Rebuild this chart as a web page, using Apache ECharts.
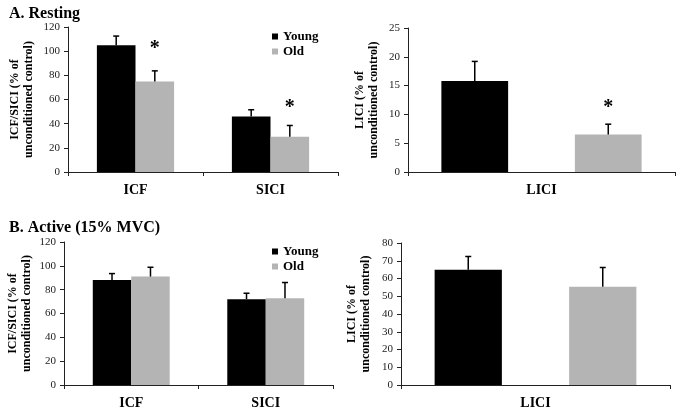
<!DOCTYPE html>
<html><head><meta charset="utf-8">
<script src="https://cdn.jsdelivr.net/npm/echarts@6/dist/echarts.min.js"></script>
<style>html,body{margin:0;padding:0;background:#fff}#c{width:679px;height:410px}</style>
</head><body><div id="c"></div>
<script>
// ---- data ----
const groupCats = ['ICF', 'SICI'];
const liciCats = ['LICI'];
const seriesNames = ['Young', 'Old'];
const restYoung = [105, 46];
const restYoungErr = [7.5, 5.5];
const restOld = [75, 29.2];
const restOldErr = [8.7, 9.3];
const restStars = [102, 53.5];
const restLiciYoung = [15.8];
const restLiciYoungErr = [3.4];
const restLiciOld = [6.5];
const restLiciOldErr = [1.8];
const restLiciStars = [11.2];
const actYoung = [88.2, 72];
const actYoungErr = [5.3, 5];
const actOld = [91, 72.8];
const actOldErr = [7.8, 13.2];
const actLiciYoung = [65];
const actLiciYoungErr = [7.4];
const actLiciOld = [55.4];
const actLiciOldErr = [10.8];
const ticksGroup = [0, 120, 20];
const ticksRestLici = [0, 25, 5];
const ticksActLici = [0, 80, 10];

const YOUNG = '#000000', OLD = '#b4b4b4';
const FONT = 'Liberation Serif';

const grids = [
  {left: 68, top: 27, width: 270, height: 145},
  {left: 408, top: 28, width: 267, height: 144},
  {left: 64, top: 242, width: 269, height: 144},
  {left: 401, top: 243, width: 269, height: 143}
];

function xAx(i, cats) {
  return {type: 'category', gridIndex: i, data: cats,
    axisLine: {lineStyle: {color: '#222', width: 1}},
    axisTick: {show: true, length: 4, lineStyle: {color: '#222'}},
    axisLabel: {fontFamily: FONT, fontWeight: 'bold', fontSize: 14, color: '#000', margin: 11}};
}
function yAx(i, t, gap) {
  return {type: 'value', gridIndex: i, min: t[0], max: t[1], interval: t[2],
    name: (i % 2 === 0 ? 'ICF/SICI' : 'LICI') + ' (% of\nunconditioned control)',
    nameLocation: 'middle', nameRotate: 90, nameGap: gap,
    nameTextStyle: {fontFamily: FONT, fontWeight: 'bold', fontSize: 12, color: '#000', lineHeight: 14},
    splitLine: {show: false},
    axisLine: {show: true, lineStyle: {color: '#222', width: 1}},
    axisTick: {show: true, length: 4, lineStyle: {color: '#222'}},
    axisLabel: {fontFamily: FONT, fontSize: 11, color: '#222', margin: 8}};
}

function errSeries(gi, vals, errs, offFrac) {
  return {type: 'custom', xAxisIndex: gi, yAxisIndex: gi, silent: true, z: 5,
    data: vals.map((v, k) => [k, v, v + errs[k]]),
    renderItem: function (params, api) {
      const band = api.size([1, 0])[0];
      const p0 = api.coord([api.value(0), api.value(1)]);
      const p1 = api.coord([api.value(0), api.value(2)]);
      const x = p0[0] + offFrac * band;
      return {type: 'group', children: [
        {type: 'line', shape: {x1: x, y1: p0[1], x2: x, y2: p1[1]}, style: {stroke: '#000', lineWidth: 1.5}},
        {type: 'line', shape: {x1: x - 3, y1: p1[1], x2: x + 3, y2: p1[1]}, style: {stroke: '#000', lineWidth: 1.5}}
      ]};
    }};
}
function starSeries(gi, vals, offFrac) {
  return {type: 'custom', xAxisIndex: gi, yAxisIndex: gi, silent: true, z: 5,
    data: vals.map((v, k) => [k, v]),
    renderItem: function (params, api) {
      const band = api.size([1, 0])[0];
      const p = api.coord([api.value(0), api.value(1)]);
      return {type: 'text', style: {x: p[0] + offFrac * band, y: p[1], text: '*', fill: '#000',
        font: 'bold 20px "' + FONT + '"', align: 'center', verticalAlign: 'middle'}};
    }};
}
function bars(gi, young, old, wide) {
  const base = {type: 'bar', xAxisIndex: gi, yAxisIndex: gi, barWidth: wide ? '25%' : '28.6%', barGap: wide ? '100%' : '0%', silent: true};
  return [
    Object.assign({}, base, {name: 'Young', data: young, itemStyle: {color: YOUNG}}),
    Object.assign({}, base, {name: 'Old', data: old, itemStyle: {color: OLD}})
  ];
}

const N = 0.143, W = 0.25;
const option = {
  animation: false,
  title: [
    {text: 'A. Resting', left: 4, top: 1, textStyle: {fontFamily: FONT, fontWeight: 'bold', fontSize: 16, color: '#000'}},
    {text: 'B. Active (15% MVC)', left: 4, top: 215, textStyle: {fontFamily: FONT, fontWeight: 'bold', fontSize: 16, color: '#000'}}
  ],
  legend: [
    {data: seriesNames, orient: 'vertical', left: 267, top: 25, itemWidth: 6, itemHeight: 6, itemGap: 2, icon: 'rect',
      textStyle: {fontFamily: FONT, fontWeight: 'bold', fontSize: 13, color: '#000'}, selectedMode: false},
    {data: seriesNames, orient: 'vertical', left: 267, top: 240, itemWidth: 6, itemHeight: 6, itemGap: 2, icon: 'rect',
      textStyle: {fontFamily: FONT, fontWeight: 'bold', fontSize: 13, color: '#000'}, selectedMode: false}
  ],
  grid: grids,
  xAxis: [xAx(0, groupCats), xAx(1, liciCats), xAx(2, groupCats), xAx(3, liciCats)],
  yAxis: [yAx(0, ticksGroup, 32), yAx(1, ticksRestLici, 27), yAx(2, ticksGroup, 30), yAx(3, ticksActLici, 28)],
  series: [].concat(
    bars(0, restYoung, restOld, false),
    [errSeries(0, restYoung, restYoungErr, -N), errSeries(0, restOld, restOldErr, N), starSeries(0, restStars, N)],
    bars(1, restLiciYoung, restLiciOld, true),
    [errSeries(1, restLiciYoung, restLiciYoungErr, -W), errSeries(1, restLiciOld, restLiciOldErr, W), starSeries(1, restLiciStars, W)],
    bars(2, actYoung, actOld, false),
    [errSeries(2, actYoung, actYoungErr, -N), errSeries(2, actOld, actOldErr, N)],
    bars(3, actLiciYoung, actLiciOld, true),
    [errSeries(3, actLiciYoung, actLiciYoungErr, -W), errSeries(3, actLiciOld, actLiciOldErr, W)]
  )
};
echarts.init(document.getElementById('c'), null, {renderer: 'canvas'}).setOption(option);
</script></body></html>
